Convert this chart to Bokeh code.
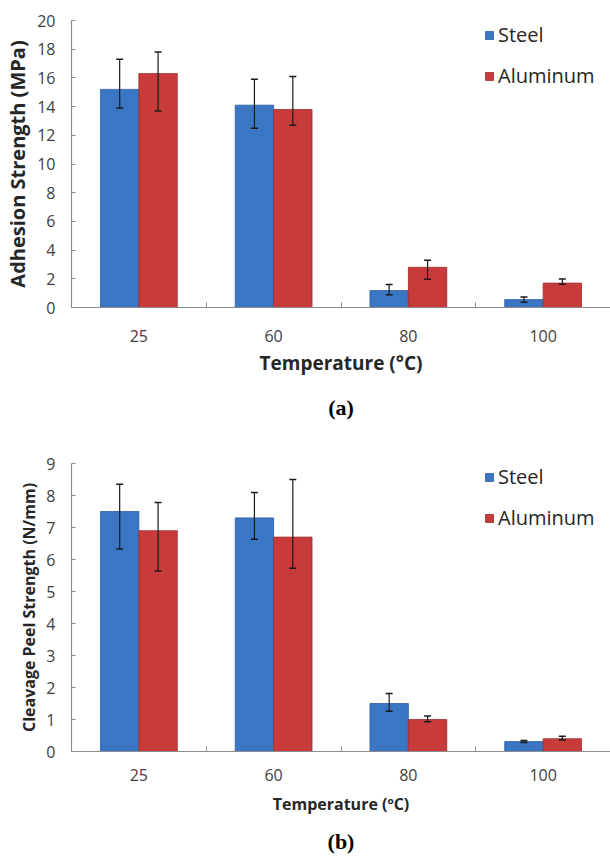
import numpy as np
from bokeh.plotting import figure
from bokeh.models import (ColumnDataSource, Range1d, FixedTicker, Whisker, TeeHead,
                          Legend, LegendItem, Title)
from bokeh.layouts import column
from bokeh.embed import file_html
from bokeh.resources import INLINE

# ---------------- data ----------------
temps = ["25", "60", "80", "100"]
series = ["Steel", "Aluminum"]

# (a) Adhesion strength (MPa)
adh_steel = [15.2, 14.1, 1.18, 0.55]
adh_steel_hi = [17.3, 15.9, 1.6, 0.74]
adh_steel_lo = [13.9, 12.5, 0.88, 0.37]
adh_al = [16.3, 13.8, 2.8, 1.7]
adh_al_hi = [17.8, 16.1, 3.3, 1.98]
adh_al_lo = [13.7, 12.7, 1.96, 1.62]

# (b) Cleavage peel strength (N/mm)
pel_steel = [7.5, 7.3, 1.5, 0.31]
pel_steel_hi = [8.35, 8.09, 1.81, 0.34]
pel_steel_lo = [6.33, 6.63, 1.26, 0.28]
pel_al = [6.9, 6.7, 1.0, 0.4]
pel_al_hi = [7.78, 8.5, 1.11, 0.48]
pel_al_lo = [5.64, 5.73, 0.93, 0.36]

STEEL = "#3a76c4"
ALU = "#c83b3b"
FONT = "Open Sans"


def panel(vals, ymax, ystep, ylabel, tag, height, top, bottom, ytitle_size,
          xtitle_size, lab_stand, xtitle_stand, tag_stand, xlabel, leg_y):
    n = len(temps)
    centers = np.arange(n) + 0.5
    bw = 0.285
    p = figure(width=610, height=height, output_backend="svg", toolbar_location=None,
               x_range=Range1d(0, n), y_range=Range1d(0, ymax),
               min_border_left=71, min_border_right=0, min_border_top=top,
               min_border_bottom=bottom)
    p.outline_line_color = None
    p.grid.grid_line_color = None
    p.background_fill_color = "white"
    p.border_fill_color = "white"

    (s, s_hi, s_lo, a, a_hi, a_lo) = vals
    src_s = ColumnDataSource(dict(x=centers - bw / 2, top=s, hi=s_hi, lo=s_lo))
    src_a = ColumnDataSource(dict(x=centers + bw / 2, top=a, hi=a_hi, lo=a_lo))
    r1 = p.vbar(x="x", top="top", width=bw, source=src_s, fill_color=STEEL,
                line_color="#2d5e9e", line_width=0.8)
    r2 = p.vbar(x="x", top="top", width=bw, source=src_a, fill_color=ALU,
                line_color="#9e2e2e", line_width=0.8)
    for src in (src_s, src_a):
        w = Whisker(base="x", upper="hi", lower="lo", source=src, level="overlay",
                    line_color="#1a1a1a", line_width=1.2,
                    upper_head=TeeHead(size=7, line_color="#1a1a1a", line_width=1.5),
                    lower_head=TeeHead(size=7, line_color="#1a1a1a", line_width=1.5))
        p.add_layout(w)

    # x axis
    xa = p.xaxis[0]
    xa.ticker = FixedTicker(ticks=list(centers), minor_ticks=list(np.arange(1, n)))
    xa.major_label_overrides = {float(c): t for c, t in zip(centers, temps)}
    xa.major_tick_in = 0
    xa.major_tick_out = 0
    xa.minor_tick_in = 5
    xa.minor_tick_out = 0
    xa.minor_tick_line_color = "#8c8c8c"
    xa.axis_line_color = "#8c8c8c"
    xa.axis_line_width = 1.2
    xa.major_label_text_font = FONT
    xa.major_label_text_font_size = "16px"
    xa.major_label_text_color = "#404040"
    xa.major_label_standoff = lab_stand
    xa.axis_label = xlabel
    xa.axis_label_text_font = FONT
    xa.axis_label_text_font_style = "bold"
    xa.axis_label_text_font_size = xtitle_size
    xa.axis_label_text_color = "#262626"
    xa.axis_label_standoff = xtitle_stand

    # y axis
    ya = p.yaxis[0]
    ya.ticker = FixedTicker(ticks=list(np.arange(0, ymax + 0.001, ystep)))
    ya.major_tick_in = 4
    ya.major_tick_out = 0
    ya.major_tick_line_color = "#8c8c8c"
    ya.minor_tick_line_color = None
    ya.axis_line_color = "#8c8c8c"
    ya.axis_line_width = 1.2
    ya.major_label_text_font = FONT
    ya.major_label_text_font_size = "16px"
    ya.major_label_text_color = "#404040"
    ya.major_label_standoff = 16
    ya.axis_label = ylabel
    ya.axis_label_text_font = FONT
    ya.axis_label_text_font_style = "bold"
    ya.axis_label_text_font_size = ytitle_size
    ya.axis_label_text_color = "#262626"
    ya.axis_label_standoff = 3

    leg = Legend(items=[LegendItem(label=series[0], renderers=[r1]),
                        LegendItem(label=series[1], renderers=[r2])],
                 location=(413, leg_y), orientation="vertical")
    leg.border_line_color = None
    leg.background_fill_alpha = 0
    leg.padding = 0
    leg.margin = 0
    leg.glyph_width = 10
    leg.glyph_height = 10
    leg.label_height = 24
    leg.label_standoff = 4
    leg.spacing = 14
    leg.label_text_font = FONT
    leg.label_text_font_size = "20px"
    leg.label_text_color = "#262626"
    p.add_layout(leg)

    t = Title(text=tag, align="center", text_font="Liberation Serif",
              text_font_style="bold", text_font_size="22px", text_color="black",
              standoff=tag_stand)
    p.add_layout(t, "below")
    return p


p1 = panel((adh_steel, adh_steel_hi, adh_steel_lo, adh_al, adh_al_hi, adh_al_lo),
           20, 2, "Adhesion Strength (MPa)", "(a)", 435, 20, 128, "20px", "19px",
           22, 5, 28, "Temperature (°C)", 218)
p2 = panel((pel_steel, pel_steel_hi, pel_steel_lo, pel_al, pel_al_hi, pel_al_lo),
           9, 1, "Cleavage Peel Strength (N/mm)", "(b)", 427, 28, 110, "16px", "16px",
           17, 9, 18, "Temperature (ºC)", 220)

layout = column(p1, p2, spacing=0)
open("out.html", "w").write(file_html(layout, INLINE))
